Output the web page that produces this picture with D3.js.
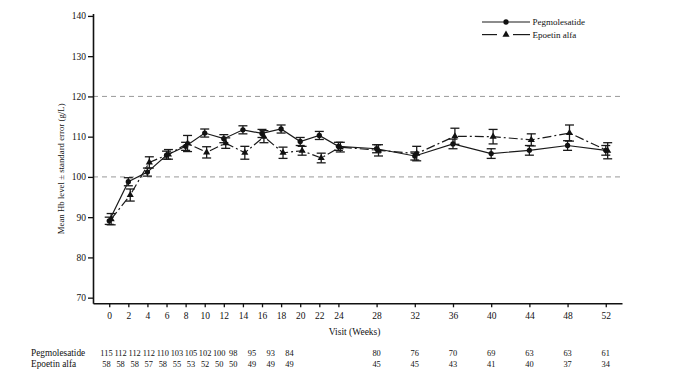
<!DOCTYPE html>
<html>
  <head>
    <title>Mean Hb level by visit</title>
    <style>
      body { margin: 0; background: #fff; }
      text { font-family: "Liberation Serif", "DejaVu Serif", serif; fill: #111; }
      .axis path, .axis line { stroke: #111; }
      .grid line { stroke: #999; stroke-dasharray: 5,4; }
    </style>
    <script src="https://cdn.jsdelivr.net/npm/d3@7"></script>
  </head>
  <body>
    <svg id="chart" width="700" height="385"></svg>
  <script>
    // visit weeks
    const weeks = [0, 2, 4, 6, 8, 10, 12, 14, 16, 18, 20, 22, 24, 28, 32, 36, 40, 44, 48, 52];

    // mean Hb (g/L) and standard error
    const pegMean = [89.1, 98.8, 101.2, 105.4, 107.6, 110.9, 109.5, 111.7, 110.8, 111.9, 108.8, 110.3, 107.6, 107.0, 105.2, 108.2, 105.8, 106.6, 107.8, 106.6];
    const pegSE   = [0.9, 1.0, 1.0, 1.0, 1.0, 1.0, 1.0, 1.0, 1.0, 1.0, 1.0, 1.0, 1.0, 1.0, 1.0, 1.2, 1.2, 1.2, 1.2, 1.2];
    const epoMean = [89.5, 95.5, 103.6, 105.6, 108.3, 106.1, 108.4, 106.0, 110.0, 106.0, 106.5, 104.7, 107.4, 106.6, 105.8, 110.1, 110.0, 109.2, 110.9, 106.5];
    const epoSE   = [1.4, 1.5, 1.4, 1.2, 2.0, 1.4, 1.3, 1.6, 1.5, 1.4, 1.1, 1.2, 1.2, 1.4, 1.8, 2.0, 1.8, 1.5, 2.0, 2.0];

    // patients at each visit
    const pegN = [115, 112, 112, 112, 110, 103, 105, 102, 100, 98, 95, 93, 84, 80, 76, 70, 69, 63, 63, 61];
    const epoN = [58, 58, 58, 57, 58, 55, 53, 52, 50, 50, 49, 49, 49, 45, 45, 43, 41, 40, 37, 34];

    const yTicks = [70, 80, 90, 100, 110, 120, 130, 140];
    const refLines = [100, 120];

    const series = [
      { name: "Pegmolesatide", mean: pegMean, se: pegSE, dodge: 0, dash: null, symbol: "circle" },
      { name: "Epoetin alfa", mean: epoMean, se: epoSE, dodge: 0.2, dash: "9,3,2,3", symbol: "triangle" }
    ];

    const svg = d3.select("#chart");

    const x = d3.scaleLinear().domain([-1.7, 53.7]).range([93, 622]);
    const y = d3.scaleLinear().domain([68.6, 140.6]).range([303.3, 13.5]);

    // dashed reference lines
    svg.append("g")
      .attr("class", "grid")
      .selectAll("line")
      .data(refLines)
      .enter()
      .append("line")
      .attr("x1", x.range()[0])
      .attr("x2", x.range()[1])
      .attr("y1", d => y(d))
      .attr("y2", d => y(d));

    // axes
    const yAxis = svg.append("g")
      .attr("class", "axis")
      .attr("transform", `translate(${x.range()[0]},0)`)
      .call(d3.axisLeft(y).tickValues(yTicks).tickSize(5).tickSizeOuter(0).tickPadding(2));

    const xAxis = svg.append("g")
      .attr("class", "axis")
      .attr("transform", `translate(0,${y.range()[0]})`)
      .call(d3.axisBottom(x).tickValues(weeks).tickSize(4).tickSizeOuter(0).tickPadding(5));

    [yAxis, xAxis].forEach(a => {
      a.select(".domain").attr("stroke-width", 1.6);
      a.selectAll(".tick line").attr("stroke-width", 1.3);
      a.selectAll("text").attr("font-size", 9.5).attr("font-family", "Liberation Serif").attr("fill", "#111");
    });

    svg.append("text")
      .attr("x", x(25.7))
      .attr("y", 335)
      .attr("text-anchor", "middle")
      .attr("font-size", 9.5)
      .text("Visit (Weeks)");

    svg.append("text")
      .attr("transform", `translate(64,${y(102)}) rotate(-90)`)
      .attr("text-anchor", "middle")
      .attr("font-size", 8.8)
      .text("Mean Hb level \u00b1 standard error (g/L)");

    // lines, error bars and markers
    const capHalf = 4.5;
    series.forEach(s => {
      const pts = weeks.map((w, i) => ({ w: w + s.dodge, m: s.mean[i], e: s.se[i] }));
      const g = svg.append("g");

      g.append("path")
        .datum(pts)
        .attr("fill", "none")
        .attr("stroke", "#1a1a1a")
        .attr("stroke-width", 1.2)
        .attr("stroke-dasharray", s.dash)
        .attr("d", d3.line().x(d => x(d.w)).y(d => y(d.m)));

      const bars = g.selectAll(".eb")
        .data(pts)
        .enter()
        .append("g")
        .attr("stroke", "#1a1a1a")
        .attr("stroke-width", 1.3);

      bars.append("line")
        .attr("x1", d => x(d.w)).attr("x2", d => x(d.w))
        .attr("y1", d => y(d.m - d.e)).attr("y2", d => y(d.m + d.e));
      bars.append("line")
        .attr("x1", d => x(d.w) - capHalf).attr("x2", d => x(d.w) + capHalf)
        .attr("y1", d => y(d.m + d.e)).attr("y2", d => y(d.m + d.e));
      bars.append("line")
        .attr("x1", d => x(d.w) - capHalf).attr("x2", d => x(d.w) + capHalf)
        .attr("y1", d => y(d.m - d.e)).attr("y2", d => y(d.m - d.e));

      const sym = s.symbol === "circle" ? d3.symbolCircle : d3.symbolTriangle;
      g.selectAll(".mk")
        .data(pts)
        .enter()
        .append("path")
        .attr("transform", d => `translate(${x(d.w)},${y(d.m)})`)
        .attr("d", d3.symbol().type(sym).size(s.symbol === "circle" ? 22 : 22))
        .attr("fill", "#111");
    });

    // legend
    const legend = svg.append("g").attr("transform", "translate(482,22)");
    series.forEach((s, i) => {
      const row = legend.append("g").attr("transform", `translate(0,${i * 12.6})`);
      if (s.dash) {
        row.append("line").attr("x1", 0).attr("x2", 15).attr("stroke", "#1a1a1a").attr("stroke-width", 1.2);
        row.append("line").attr("x1", 31).attr("x2", 48).attr("stroke", "#1a1a1a").attr("stroke-width", 1.2);
      } else {
        row.append("line").attr("x1", 0).attr("x2", 48).attr("stroke", "#1a1a1a").attr("stroke-width", 1.2);
      }
      row.append("path")
        .attr("transform", "translate(24,0)")
        .attr("d", d3.symbol().type(s.symbol === "circle" ? d3.symbolCircle : d3.symbolTriangle).size(22))
        .attr("fill", "#111");
      row.append("text")
        .attr("x", 50.5)
        .attr("y", 3.2)
        .attr("font-size", 9)
        .text(s.name);
    });

    // numbers at risk table: first columns packed, later ones under the ticks
    const packed = d3.scaleLinear().domain([0, 16, 18, 24]).range([106.5, 219.2, 233.2, 289.5]);
    const colX = w => (w <= 24 ? packed(w) : x(w));
    const rows = [
      { label: "Pegmolesatide", n: pegN, y: 356 },
      { label: "Epoetin alfa", n: epoN, y: 366.8 }
    ];
    rows.forEach(r => {
      svg.append("text").attr("x", 31).attr("y", r.y).attr("font-size", 9.3).text(r.label);
      svg.append("g")
        .selectAll("text")
        .data(weeks)
        .enter()
        .append("text")
        .attr("x", d => colX(d))
        .attr("y", r.y)
        .attr("text-anchor", "middle")
        .attr("font-size", 8.4)
        .text((d, i) => r.n[i]);
    });
  </script>
  </body>
</html>
